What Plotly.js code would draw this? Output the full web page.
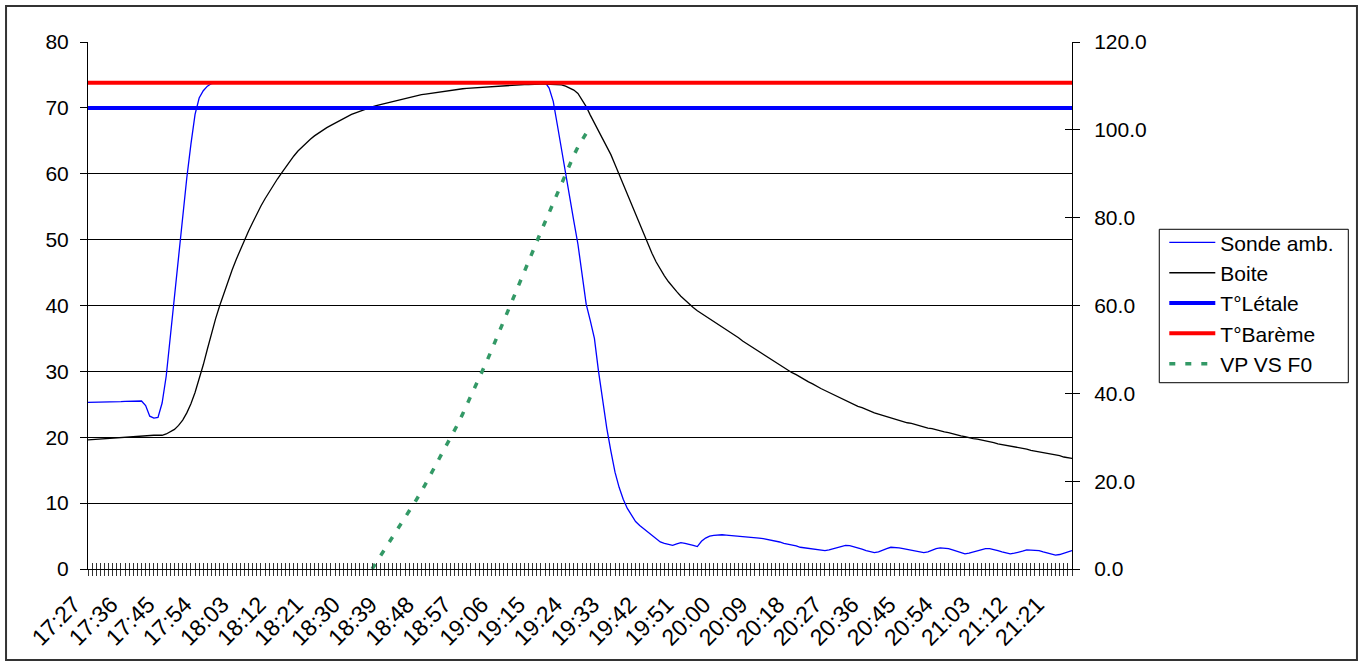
<!DOCTYPE html>
<html>
<head>
<meta charset="utf-8">
<script src="https://cdn.plot.ly/plotly-3.0.1.min.js"></script>
<style>html,body{margin:0;padding:0;background:#fff;}#chart{width:1361px;height:666px;}</style>
</head>
<body>
<div id="chart"></div>
<script>
// ---- Data ----
const startTime = '17:27';
const nMinutes = 240;
const tickLabels = ['17:27','17:36','17:45','17:54','18:03','18:12','18:21','18:30','18:39','18:48','18:57','19:06','19:15','19:24','19:33','19:42','19:51','20:00','20:09','20:18','20:27','20:36','20:45','20:54','21:03','21:12','21:21'];

const sondeAmb = [
25.3,25.3,25.3,25.35,25.35,25.4,25.4,25.4,25.4,25.45,25.45,25.5,25.5,25.5,
24.8,23.2,22.9,23.0,25.2,29.3,35.3,41.6,47.5,53.5,59.4,64.5,69.0,71.5,72.6,73.3,73.7,
73.8,73.9,73.9,73.9,73.9,74.0,74.0,74.0,74.0,74.0,
74.0,74.0,74.0,74.0,74.0,74.0,74.0,74.0,74.0,74.0,
74.0,74.0,74.0,74.0,74.0,74.0,74.0,74.0,74.0,74.0,
74.0,74.0,74.0,74.0,74.0,74.0,74.0,74.0,74.0,74.0,
74.0,74.0,74.0,74.0,74.0,74.0,74.0,74.0,74.0,74.0,
74.0,74.0,74.0,74.0,74.0,74.0,74.0,74.0,74.0,74.0,
74.0,74.0,74.0,74.0,74.0,74.0,74.0,74.0,74.0,74.0,
74.0,74.0,74.0,74.0,74.0,74.0,74.0,74.0,74.0,74.0,
73.9,73.0,71.0,67.4,63.6,60.1,56.4,52.8,49.3,44.5,40.2,37.7,35.0,30.0,25.5,21.4,17.9,14.7,12.4,10.6,9.2,8.1,7.2,6.6,6.1,5.6,5.1,4.6,4.1,3.9,3.7,3.6,3.8,
4.0,3.9,3.8,3.6,3.4,4.2,4.7,5.0,5.1,5.2,
5.2,5.15,5.1,5.05,5.0,5.0,4.95,4.9,4.8,4.7,
4.6,4.5,4.4,4.2,4.1,3.9,3.8,3.65,3.5,3.3,
3.2,3.1,3.0,2.9,2.8,2.8,2.9,3.1,3.3,3.5,
3.6,3.55,3.4,3.2,3.0,2.8,2.6,2.5,2.6,2.9,
3.1,3.3,3.3,3.2,3.1,3.0,2.8,2.7,2.6,2.5,
2.6,2.9,3.1,3.2,3.2,3.1,2.9,2.7,2.5,2.3,
2.4,2.6,2.8,3.0,3.1,3.1,3.0,2.8,2.6,2.4,
2.3,2.4,2.5,2.7,2.9,2.9,2.9,2.8,2.6,2.4,
2.2,2.1,2.2,2.4,2.6,2.8
];

const boite = [
19.6,19.65,19.7,19.75,19.8,19.85,19.9,19.95,20.0,20.05,20.1,20.15,20.2,20.2,20.25,20.25,20.3,20.3,
20.3,20.5,20.8,21.2,21.8,22.6,23.7,25.1,26.8,28.8,
31.0,33.4,35.8,38.0,40.0,41.9,43.7,45.4,47.0,48.5,
49.9,51.3,52.6,53.9,55.1,56.2,57.25,58.25,59.2,60.1,
61.0,61.85,62.7,63.45,64.1,64.7,65.25,65.75,66.2,66.6,
67.0,67.35,67.7,68.05,68.4,68.7,69.0,69.25,69.5,69.75,
69.95,70.15,70.35,70.5,70.7,70.9,71.05,71.2,71.35,71.5,
71.65,71.8,71.9,72.0,72.1,72.2,72.3,72.4,72.5,72.6,
72.65,72.7,72.8,72.9,72.95,73.0,73.05,73.1,73.15,73.2,
73.25,73.3,73.35,73.4,73.4,73.45,73.5,73.5,73.55,73.55,
73.6,73.6,73.6,73.6,73.6,73.6,73.55,73.5,73.3,73.0,
72.7,72.2,71.2,70.2,68.9,67.7,66.6,65.5,64.3,62.9,
61.4,59.9,58.4,56.9,55.4,53.9,52.3,50.8,49.3,47.9,
46.6,45.5,44.5,43.6,42.8,42.1,41.4,40.8,40.2,39.7,
39.2,38.8,38.3,37.9,37.5,37.1,36.7,36.3,35.9,35.5,
35.1,34.6,34.2,33.8,33.4,33.0,32.5,32.1,31.8,31.4,
31.0,30.6,30.2,29.8,29.5,29.1,28.8,28.4,28.1,27.7,
27.4,27.1,26.8,26.5,26.2,25.9,25.5,25.2,25.0,24.7,
24.5,24.2,24.0,23.7,23.5,23.3,23.1,22.9,22.8,22.6,
22.4,22.2,22.1,21.9,21.7,21.6,21.4,21.3,21.1,21.0,
20.8,20.7,20.5,20.4,20.2,20.1,19.9,19.8,19.7,19.6,
19.4,19.3,19.2,19.0,18.9,18.8,18.7,18.5,18.4,18.3,
18.2,18.0,17.9,17.8,17.7,17.5,17.4,17.3,17.2,17.0,16.9,16.8
];

const tLetaleValue = 70;
const tBaremeValue = 73.8;

const vpStartTime = '18:36';
const vpVsF0 = [
0.0,1.5,3.0,4.5,6.0,7.4,8.8,10.3,11.7,13.2,14.6,
16.0,17.7,19.4,21.1,22.8,24.5,26.2,27.9,29.6,31.3,
33.3,35.3,37.3,39.3,41.3,43.3,45.4,47.6,49.8,52.0,
54.2,56.4,58.8,61.2,63.4,65.6,67.8,70.0,72.2,74.5,
76.8,79.0,81.3,83.6,85.8,88.0,90.3,92.3,94.2,96.1,
97.7,99.2
];

// ---- Categories (one per minute) ----
const times = [];
{
  const [h0, m0] = startTime.split(':').map(Number);
  for (let k = 0; k < nMinutes; k++) {
    const t = h0 * 60 + m0 + k;
    const hh = Math.floor(t / 60), mm = t % 60;
    times.push(hh + ':' + String(mm).padStart(2, '0'));
  }
}
const tLetale = times.map(() => tLetaleValue);
const tBareme = times.map(() => tBaremeValue);
const vpIdx = times.indexOf(vpStartTime);
const vpTimes = times.slice(vpIdx, vpIdx + vpVsF0.length);
const tickText = times.map(t => tickLabels.includes(t) ? t : '');
const rightTicks = [0, 20, 40, 60, 80, 100, 120];

const FONT = 'Liberation Sans, Arial, sans-serif';

const traces = [
  {name: 'Sonde amb.', x: times, y: sondeAmb, type: 'scatter', mode: 'lines',
   line: {color: '#0000FF', width: 1.3}, xaxis: 'x', yaxis: 'y'},
  {name: 'Boite', x: times, y: boite, type: 'scatter', mode: 'lines',
   line: {color: '#000000', width: 1.3}, xaxis: 'x', yaxis: 'y'},
  {name: 'T°Létale', x: times, y: tLetale, type: 'scatter', mode: 'lines',
   line: {color: '#0000FF', width: 4}, xaxis: 'x', yaxis: 'y'},
  {name: 'T°Barème', x: times, y: tBareme, type: 'scatter', mode: 'lines',
   line: {color: '#FF0000', width: 4}, xaxis: 'x', yaxis: 'y'},
  {name: 'VP VS F0', x: vpTimes, y: vpVsF0, type: 'scatter', mode: 'lines',
   line: {color: '#339966', width: 3.5, dash: '6px,10px'}, xaxis: 'x', yaxis: 'y2'},
  // helper traces so the tick-only overlay axes are drawn
  {x: times, y: times.map(() => null), type: 'scatter', mode: 'lines', xaxis: 'x3', yaxis: 'y',
   showlegend: false, hoverinfo: 'skip'},
  {x: times, y: times.map(() => null), type: 'scatter', mode: 'lines', xaxis: 'x', yaxis: 'y4',
   showlegend: false, hoverinfo: 'skip'}
];

const layout = {
  width: 1361, height: 666,
  margin: {l: 88, r: 289, t: 42, b: 97, pad: 0},
  paper_bgcolor: '#ffffff', plot_bgcolor: '#ffffff',
  font: {family: FONT, size: 21, color: '#000'},
  showlegend: true,
  legend: {x: 1.0938, y: 0.6579, xanchor: 'left', yanchor: 'top',
           bgcolor: 'rgba(0,0,0,0)', borderwidth: 0,
           font: {family: FONT, size: 21, color: '#000'}, itemwidth: 46, traceorder: 'normal'},
  xaxis: {type: 'category', range: [0, nMinutes - 1], tickmode: 'array', tickvals: times, ticktext: tickText,
          tickangle: -45, ticks: 'outside', ticklen: 6, tickwidth: 1, tickcolor: '#333',
          ticklabelstandoff: 6, ticklabelshift: -14,
          showline: true, linecolor: '#000', linewidth: 1, showgrid: false, zeroline: false,
          tickfont: {family: FONT, size: 23, color: '#000'}, fixedrange: true},
  xaxis3: {type: 'category', overlaying: 'x', matches: 'x', anchor: 'y', side: 'bottom',
           tickmode: 'array', tickvals: times, ticks: 'inside', ticklen: 6, tickwidth: 1, tickcolor: '#333',
           showticklabels: false, showline: false, showgrid: false, zeroline: false},
  yaxis: {range: [0, 80], tickmode: 'linear', tick0: 0, dtick: 10, ticks: 'outside', ticklen: 7,
          tickcolor: '#000', showline: true, linecolor: '#000', linewidth: 1,
          showgrid: true, gridcolor: '#000', gridwidth: 1, zeroline: false,
          ticklabelstandoff: 7, tickfont: {family: FONT, size: 21, color: '#000'}},
  yaxis2: {range: [0, 120], overlaying: 'y', side: 'right', anchor: 'x', tickmode: 'array', tickvals: rightTicks,
           tickformat: '.1f', ticks: 'outside', ticklen: 7, tickcolor: '#000',
           showline: true, linecolor: '#000', linewidth: 1, showgrid: false, zeroline: false,
           ticklabelstandoff: 10, tickfont: {family: FONT, size: 21, color: '#000'}},
  yaxis4: {range: [0, 120], overlaying: 'y', side: 'right', anchor: 'x', tickmode: 'array', tickvals: rightTicks,
           ticks: 'inside', ticklen: 7, tickcolor: '#000', showticklabels: false,
           showline: false, showgrid: false, zeroline: false},
  shapes: [
    {type: 'rect', xref: 'paper', yref: 'paper', x0: -0.0833, x1: 1.2896, y0: -0.1727, y1: 1.0683,
     line: {color: '#333', width: 2}, fillcolor: 'rgba(0,0,0,0)', layer: 'above'},
    {type: 'rect', xref: 'paper', yref: 'paper', x0: 1.0887, x1: 1.2808, y0: 0.3535, y1: 0.6446,
     line: {color: '#000', width: 1}, fillcolor: 'rgba(0,0,0,0)', layer: 'above'}
  ]
};

Plotly.newPlot('chart', traces, layout, {displayModeBar: false, staticPlot: true});
</script>
</body>
</html>
